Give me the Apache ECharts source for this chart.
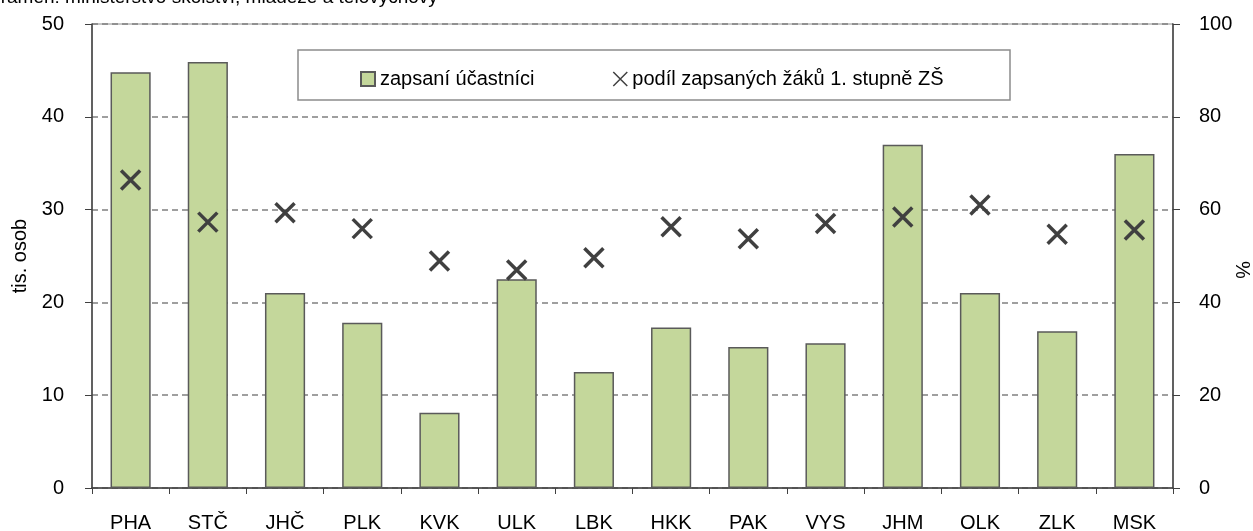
<!DOCTYPE html>
<html>
<head>
<meta charset="utf-8">
<script src="https://cdn.jsdelivr.net/npm/echarts@6/dist/echarts.min.js"></script>
<style>
  html, body { margin: 0; padding: 0; background: #fff; }
  #main { width: 1253px; height: 531px; }
</style>
</head>
<body>
<div id="main"></div>
<script>
// kraje
var kraje = ['PHA', 'STČ', 'JHČ', 'PLK', 'KVK', 'ULK', 'LBK', 'HKK', 'PAK', 'VYS', 'JHM', 'OLK', 'ZLK', 'MSK'];
// zapsaní účastníci (tis. osob)
var ucastnici = [44.8, 45.9, 21.0, 17.8, 8.1, 22.5, 12.5, 17.3, 15.2, 15.6, 37.0, 21.0, 16.9, 36.0];
// podíl zapsaných žáků 1. stupně ZŠ (%)
var podil = [66.4, 57.3, 59.3, 55.9, 48.9, 47.0, 49.6, 56.3, 53.7, 57.0, 58.4, 61.0, 54.7, 55.6];

var leftTicks = [0, 10, 20, 30, 40, 50];
var rightTicks = [0, 20, 40, 60, 80, 100];

var myChart = echarts.init(document.getElementById('main'));
var font = 'Liberation Sans, Arial, sans-serif';
var krizek = 'path://M0,0L10,10M10,0L0,10';

var option = {
    animation: false,
    textStyle: { fontFamily: font },
    grid: {
        left: 92, right: 80, top: 24, bottom: 43,
        outerBoundsMode: 'none',
        show: true, borderColor: '#8c8c8c', borderWidth: 1
    },
    graphic: [
        {
            type: 'text', left: -12, top: -12,
            style: { text: 'Pramen: ministerstvo školství, mládeže a tělovýchovy', font: '19px ' + font, fill: '#000' }
        },
        {
            type: 'rect', shape: { x: 298, y: 50, width: 712, height: 50 },
            style: { fill: '#fff', stroke: '#8c8c8c', lineWidth: 1.5 }, z: 5
        },
        // popisek pravé osy
        {
            type: 'text', x: 1242, y: 270, rotation: -Math.PI / 2,
            style: { text: '%', font: '20px ' + font, fill: '#000', align: 'center', verticalAlign: 'middle' }
        }
    ],
    legend: {
        left: 355, top: 64, z: 10,
        itemGap: 78, itemWidth: 14, itemHeight: 14,
        textStyle: { fontSize: 20, color: '#000', fontFamily: font },
        data: [
            { name: 'zapsaní účastníci', icon: 'rect' },
            { name: 'podíl zapsaných žáků 1. stupně ZŠ', icon: krizek, itemStyle: { color: 'transparent', borderColor: '#404040', borderWidth: 1.5 } }
        ]
    },
    xAxis: {
        type: 'category',
        data: kraje,
        axisLine: { lineStyle: { color: '#404040', width: 1.5 } },
        axisTick: { show: true, alignWithLabel: false, length: 6, lineStyle: { color: '#404040' } },
        axisLabel: { margin: 25, fontSize: 20, color: '#000', fontFamily: font }
    },
    yAxis: [
        {
            type: 'value', min: 0, max: 50, interval: 10,
            name: 'tis. osob', nameLocation: 'middle', nameGap: 58,
            nameTextStyle: { fontSize: 20, color: '#000', fontFamily: font },
            axisLine: { show: true, lineStyle: { color: '#404040', width: 1.5 } },
            axisTick: { show: true, length: 7, inside: false, lineStyle: { color: '#404040' } },
            axisLabel: { margin: 28, fontSize: 20, color: '#000', fontFamily: font,
                formatter: function (v) { return leftTicks.indexOf(v) >= 0 ? v : ''; } },
            splitLine: { show: true, lineStyle: { color: '#808080', type: [6, 4], width: 1.5 } }
        },
        {
            type: 'value', min: 0, max: 100, interval: 20, position: 'right',
            axisLine: { show: true, lineStyle: { color: '#404040', width: 1.5 } },
            axisTick: { show: true, length: 7, lineStyle: { color: '#404040' } },
            axisLabel: { margin: 26, fontSize: 20, color: '#000', fontFamily: font,
                formatter: function (v) { return rightTicks.indexOf(v) >= 0 ? v : ''; } },
            splitLine: { show: false }
        }
    ],
    series: [
        {
            name: 'zapsaní účastníci',
            type: 'bar',
            yAxisIndex: 0,
            barWidth: '52%',
            data: ucastnici,
            itemStyle: { color: '#c4d79b', borderColor: '#5a5a5a', borderWidth: 1.5 }
        },
        {
            name: 'podíl zapsaných žáků 1. stupně ZŠ',
            type: 'scatter',
            yAxisIndex: 1,
            symbol: krizek,
            symbolSize: 19,
            data: podil,
            itemStyle: { color: 'transparent', borderColor: '#404040', borderWidth: 3.5, opacity: 1 },
            z: 3
        }
    ]
};

myChart.setOption(option);
</script>
</body>
</html>
